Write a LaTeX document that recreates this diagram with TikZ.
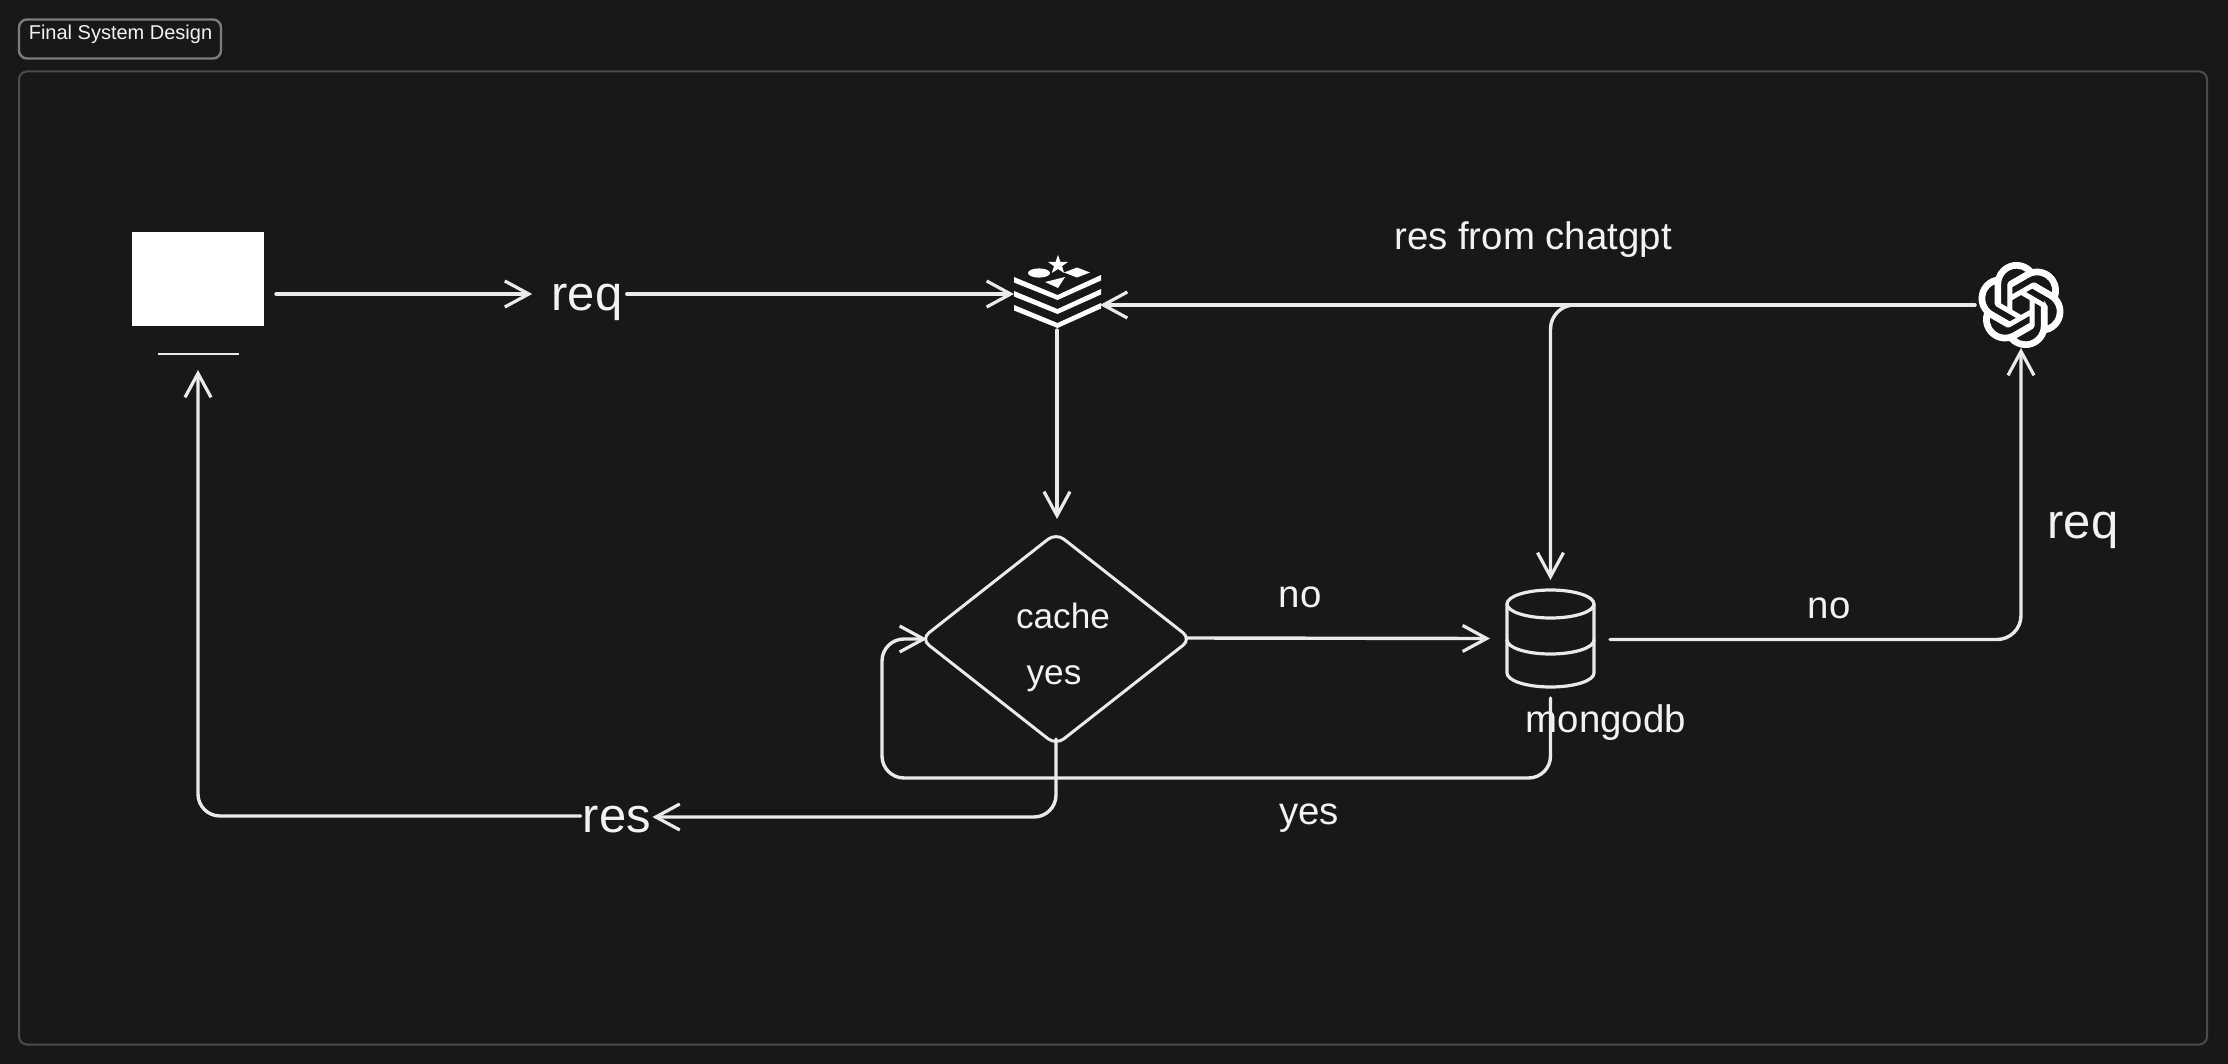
\documentclass[tikz,border=0pt]{standalone}
\usepackage{fontspec}
\setmainfont{Liberation Sans}
\usetikzlibrary{arrows.meta,shapes.geometric,svg.path}
\definecolor{bgc}{HTML}{181818}
\definecolor{framec}{HTML}{4C4C4C}
\definecolor{tagc}{HTML}{7C7C7C}
\definecolor{inkc}{HTML}{EAEAEA}
\definecolor{textc}{HTML}{F2F2F2}
\tikzset{
  conn/.style={draw=inkc,line width=1.7pt,line cap=round,line join=round,-{Straight Barb[length=12pt,width=13pt,line width=1.6pt]}},
  wire/.style={draw=inkc,line width=1.6pt,line cap=round,line join=round},
  lab/.style={text=textc,inner sep=0pt,font=\fontsize{19.2}{22}\selectfont},
  biglab/.style={text=textc,inner sep=0pt,font=\fontsize{24.5}{28}\selectfont},
  smalllab/.style={text=textc,inner sep=0pt,font=\fontsize{17.6}{20}\selectfont},
  ghost/.style={inner sep=0pt,outer sep=0pt},
}
\begin{document}
\begin{tikzpicture}[x=0.5pt,y=-0.5pt]
\useasboundingbox[fill=bgc] (0,0) rectangle (2228,1064);
% frame and tag
\node[ghost,draw=framec,line width=1pt,rounded corners=4pt,minimum width=1094pt,minimum height=486.5pt] (frame) at (1113,558) {};
\node[ghost,draw=tagc,line width=1.2pt,rounded corners=4pt,minimum width=101pt,minimum height=19.5pt] (tagbox) at (120,39) {};
\node[text=textc,inner sep=0pt,font=\fontsize{10}{12}\selectfont] (tagtext) at (120.5,34.5) {Final System Design};
% client
\node[ghost,fill=white,minimum width=66pt,minimum height=47pt] (client) at (198,279) {};
\draw[draw=inkc,line width=0.7pt] ([shift={(-40,75)}]client.center) -- ([shift={(41,75)}]client.center);
% labels
\node[biglab] (reqa) at (587,302) {req};
\node[biglab] (res) at (617,820) {res};
\node[biglab] (reqb) at (2083,530) {req};
\node[lab] (resgpt) at (1533,240) {res from chatgpt};
\node[lab] (noa) at (1300,597) {no};
\node[lab] (nob) at (1829,608) {no};
\node[lab] (yesb) at (1309,818) {yes};
\node[lab] (mongo) at (1606,723) {mongodb};
% redis icon
\node[ghost,minimum width=44pt,minimum height=34pt] (redis) at (1058,293) {};
\foreach \d in {0,14,28}{
  \fill[white] (1014,277+\d) -- (1057.5,295+\d) -- (1101,275+\d) -- (1101,280.5+\d) -- (1057.5,300+\d) -- (1014,282.5+\d) -- cycle;
}
\fill[white] (1039,273) ellipse [x radius=11,y radius=4.6];
\fill[white] (1064,272.5) -- (1077,267.5) -- (1090,272.5) -- (1077,277.5) -- cycle;
\fill[white] (1045,282) -- (1065,277) -- (1058,288) -- cycle;
\fill[white] (1058,255) -- (1060.4,261.8) -- (1068,261.9) -- (1062,266.2) -- (1064.2,273) -- (1058,269) -- (1051.8,273) -- (1054,266.2) -- (1048,261.9) -- (1055.6,261.8) -- cycle;
% gpt icon
\node[ghost,minimum width=42pt,minimum height=42pt] (gpt) at (2021,305) {};
\begin{scope}[shift={(2021,305)},xscale=1.77,yscale=-1.77,shift={(-12pt,-12pt)}]
\filldraw[white,line width=0.55pt,even odd rule] (0,0) svg {M 22.2819 9.8211 a 5.9847 5.9847 0 0 0 -0.5157 -4.9108 a 6.0462 6.0462 0 0 0 -6.5098 -2.9 A 6.0651 6.0651 0 0 0 4.9807 4.1818 a 5.9847 5.9847 0 0 0 -3.9977 2.9 a 6.0462 6.0462 0 0 0 0.7427 7.0966 a 5.98 5.98 0 0 0 0.511 4.9107 a 6.051 6.051 0 0 0 6.5146 2.9001 A 5.9847 5.9847 0 0 0 13.2599 24 a 6.0557 6.0557 0 0 0 5.7718 -4.2058 a 5.9894 5.9894 0 0 0 3.9977 -2.9001 a 6.0557 6.0557 0 0 0 -0.7475 -7.0729 z
M 13.2599 22.4292 a 4.4755 4.4755 0 0 1 -2.8764 -1.0408 l 0.1419 -0.0804 l 4.7783 -2.7582 a 0.7948 0.7948 0 0 0 0.3927 -0.6813 v -6.7369 l 2.02 1.1686 l 0.038 0.052 v 5.5826 a 4.504 4.504 0 0 1 -4.4945 4.4944 z
M 3.5992 18.3038 a 4.4708 4.4708 0 0 1 -0.5346 -3.0137 l 0.142 0.0852 l 4.783 2.7582 a 0.7712 0.7712 0 0 0 0.7806 0 l 5.8428 -3.3685 v 2.3324 l -0.0332 0.0615 L 9.74 19.9502 a 4.4992 4.4992 0 0 1 -6.1408 -1.6464 z
M 2.3408 7.8956 a 4.485 4.485 0 0 1 2.3655 -1.9728 V 11.6 a 0.7664 0.7664 0 0 0 0.3879 0.6765 l 5.8144 3.3543 l -2.0201 1.1685 l -0.071 0 l -4.8303 -2.7865 A 4.504 4.504 0 0 1 2.3408 7.872 z
M 18.9371 11.7514 l -5.8333 -3.3874 l 2.0154 -1.164 l 0.071 0 l 4.8303 2.7913 a 4.4944 4.4944 0 0 1 -0.6765 8.1042 v -5.6772 a 0.79 0.79 0 0 0 -0.407 -0.667 z
M 20.9478 8.7283 l -0.142 -0.0852 l -4.7735 -2.7818 a 0.7759 0.7759 0 0 0 -0.7854 0 L 9.409 9.2297 V 6.8974 l 0.0284 -0.0615 l 4.8303 -2.7866 a 4.4992 4.4992 0 0 1 6.6802 4.66 z
M 8.3065 12.863 l -2.02 -1.1638 l -0.038 -0.0567 V 6.0742 a 4.4992 4.4992 0 0 1 7.3757 -3.4537 l -0.142 0.0805 L 8.704 5.459 a 0.7948 0.7948 0 0 0 -0.3927 0.6813 z
M 9.4041 10.4976 l 2.602 -1.4998 l 2.6069 1.4998 v 2.9994 l -2.5974 1.4997 l -2.6067 -1.4997 z};
\end{scope}
% cache diamond
\node[ghost,shape=diamond,draw=inkc,line width=1.5pt,rounded corners=5pt,aspect=1.27,minimum width=135pt,minimum height=106pt] (cache) at (1056,639) {};
\node[smalllab] (cachet) at (1063,616) {cache};
\node[smalllab] (cachey) at (1054,679) {yes};
% database
\node[ghost,minimum width=43.5pt,minimum height=48.5pt] (db) at (1550.5,638.5) {};
\draw[wire] (1507,604) arc [start angle=180,end angle=-180,x radius=43.5,y radius=14];
\draw[wire] (1507,604) -- (1507,673) arc [start angle=180,end angle=0,x radius=43.5,y radius=14] -- (1594,604);
\draw[wire] (1507,640) arc [start angle=180,end angle=0,x radius=43.5,y radius=14];
% connectors
\coordinate (loopc) at (882,778);
\draw[conn] ([shift={(12,15)}]client.east) -- ([shift={(-19,-8)}]reqa.west);
\draw[conn] ([shift={(4,-8)}]reqa.east) -- ([shift={(0,1)}]redis.west);
\draw[conn] ([shift={(-1,3)}]redis.south) -- ([shift={(-1,192)}]redis.south);
\draw[conn] ([shift={(-4,0)}]gpt.west) -- ([shift={(-2,12)}]redis.east);
\draw[conn,rounded corners=12pt] ([shift={(-4,0)}]gpt.west) -| ([shift={(0,-10)}]db.north);
\draw[conn] ([shift={(-5,-1)}]cache.east) -- ([shift={(-17,0)}]db.west);
\draw[conn,rounded corners=12pt] ([shift={(16,1)}]db.east) -| ([shift={(0,1)}]gpt.south);
\draw[conn,rounded corners=11pt] ([shift={(0,11)}]db.south) |- (loopc) |- ([shift={(6,0)}]cache.west);
\draw[conn,rounded corners=11pt] ([shift={(0,-6)}]cache.south) |- ([shift={(1,-3)}]res.east);
\draw[conn,rounded corners=11pt] ([shift={(-2,-4)}]res.west) -| ([shift={(0,44)}]client.south);
\end{tikzpicture}
\end{document}
